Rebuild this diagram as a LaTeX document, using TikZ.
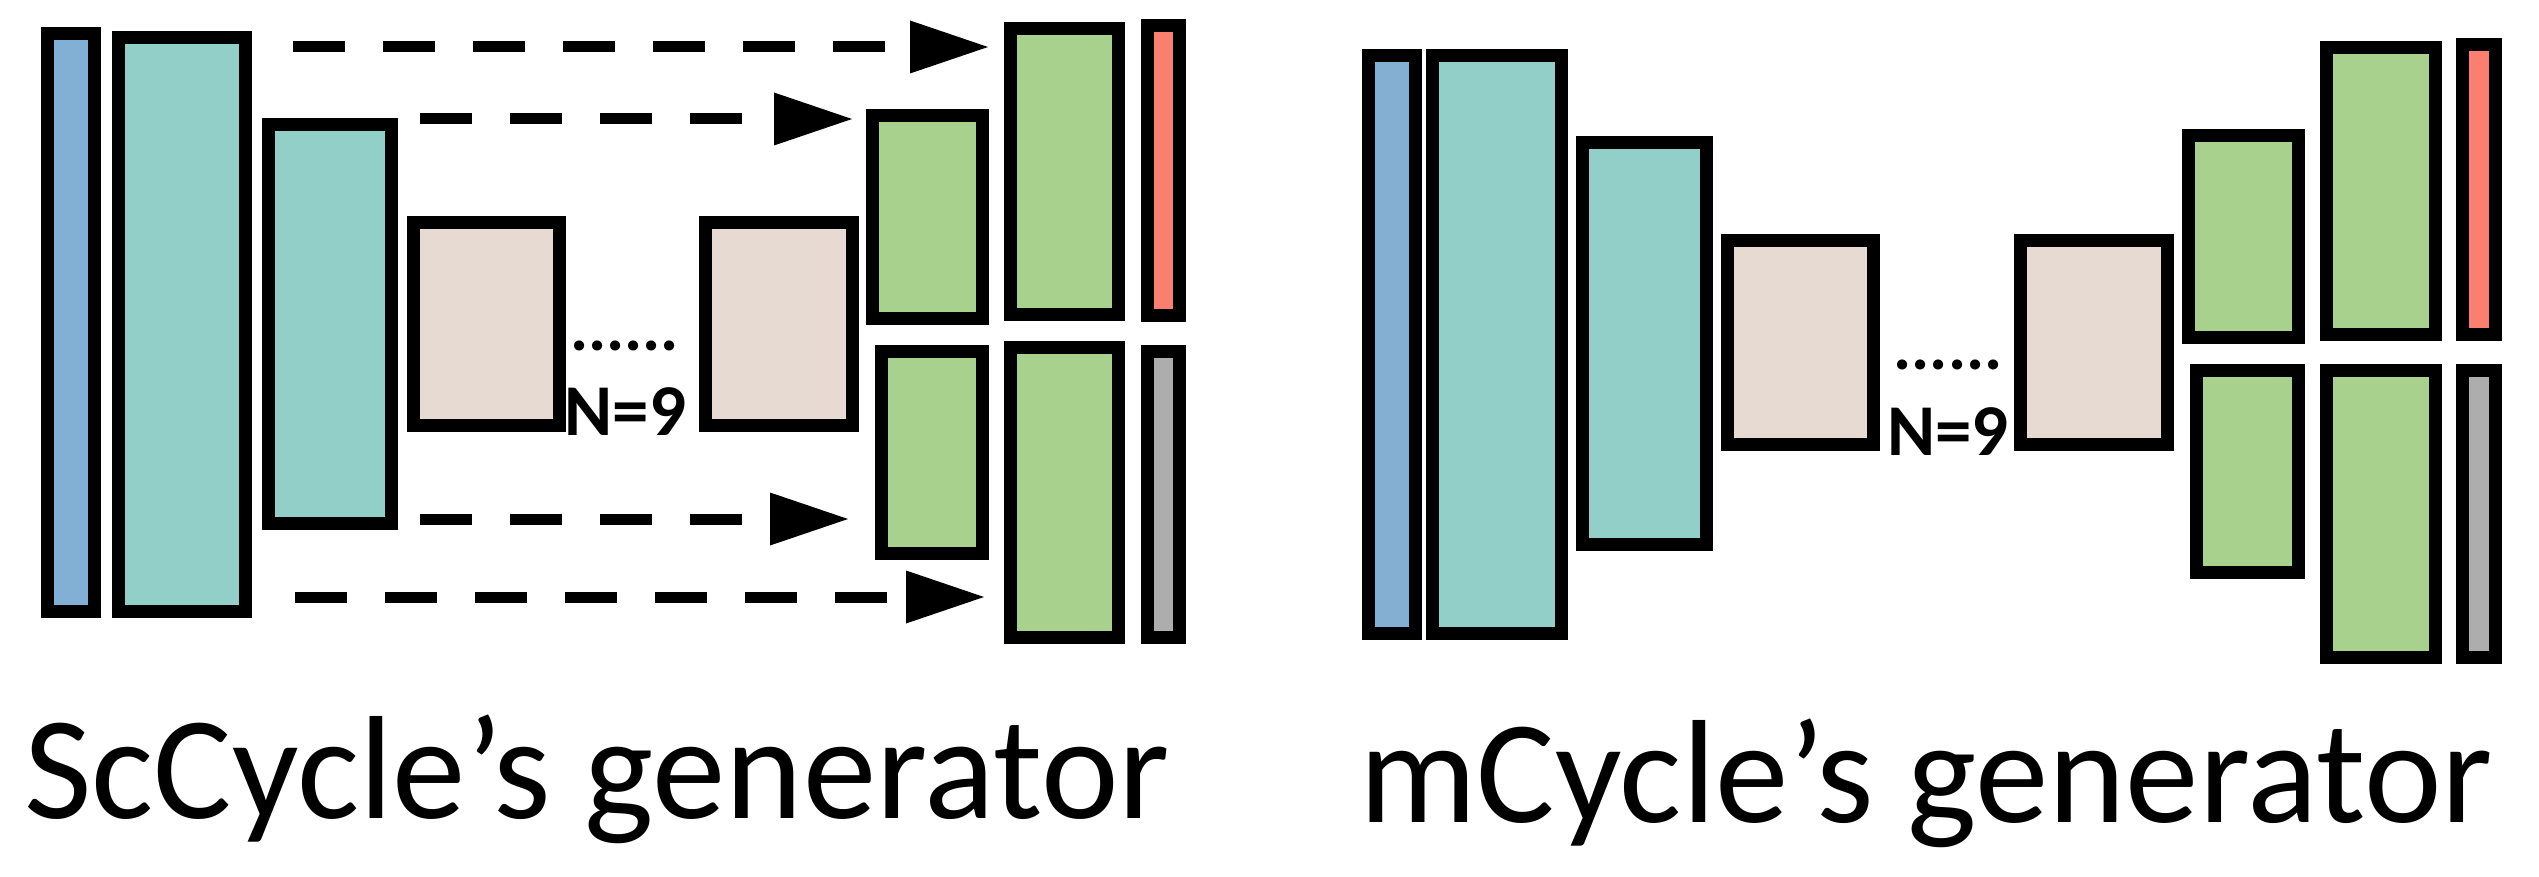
\documentclass[tikz,border=0pt]{standalone}
\usepackage{fontspec}
\setmainfont{Carlito}
\usetikzlibrary{arrows.meta}
\definecolor{cblue}{HTML}{82AFD4}
\definecolor{cteal}{HTML}{92CFC8}
\definecolor{cbeige}{HTML}{E7DAD2}
\definecolor{cgreen}{HTML}{A9D18E}
\definecolor{cred}{HTML}{FA7F6F}
\definecolor{cgray}{HTML}{ADADAD}
\tikzset{
  blk/.style={draw=black, line width=13pt, rectangle, inner sep=0pt, outer sep=0pt},
  skip/.style={line width=11pt, dash pattern=on 52pt off 38pt,
    -{Triangle[length=78pt,width=53pt,line width=0pt]}},
  caption/.style={anchor=base west, inner sep=0pt, font=\fontsize{147}{150}\selectfont},
  nlabel/.style={anchor=base, inner sep=0pt, font=\fontsize{73}{75}\selectfont\bfseries},
  dotlabel/.style={anchor=base, inner sep=0pt, font=\fontsize{68}{70}\selectfont\bfseries}
}
\begin{document}
\begin{tikzpicture}[x=1pt,y=-1pt]
\useasboundingbox (0,0) rectangle (2539,877);
% ---------- left panel ----------
\node[blk, fill=cblue,  minimum width=47pt,  minimum height=578pt] (Lblue)  at (71,322.5) {};
\node[blk, fill=cteal,  minimum width=127pt, minimum height=574pt] (Lteal1) at (182,324.5) {};
\node[blk, fill=cteal,  minimum width=123pt, minimum height=399pt] (Lteal2) at (330,324) {};
\node[blk, fill=cbeige, minimum width=146pt, minimum height=203pt] (Lres1)  at (486.5,324) {};
\node[blk, fill=cbeige, minimum width=147pt, minimum height=203pt] (Lres2)  at (779,324) {};
\node[blk, fill=cgreen, minimum width=110pt, minimum height=203pt] (Lgst)   at (927.5,217) {};
\node[blk, fill=cgreen, minimum width=101pt, minimum height=202pt] (Lgsb)   at (932,452.5) {};
\node[blk, fill=cgreen, minimum width=108pt, minimum height=286pt] (Lgbt)   at (1064.5,171.5) {};
\node[blk, fill=cgreen, minimum width=108pt, minimum height=290pt] (Lgbb)   at (1064.5,492.5) {};
\node[blk, fill=cred,   minimum width=32pt,  minimum height=290pt] (Lred)   at (1163.5,170.5) {};
\node[blk, fill=cgray,  minimum width=32pt,  minimum height=286pt] (Lgray)  at (1163.5,494.5) {};
\node[dotlabel] (Ldots) at (624.5,350) {......};
\node[nlabel] (LN) at (625.5,435) {N=9};
\coordinate (s1) at (293,47);
\coordinate (s2) at (420,119);
\coordinate (s3) at (420,519);
\coordinate (s4) at (295,597);
\draw[skip, shorten >=22.5pt] (s1) -- (s1 -| Lgbt.west);
\draw[skip, shorten >=20.5pt] (s2) -- (s2 -| Lgst.west);
\draw[skip, shorten >=33.5pt] (s3) -- (s3 -| Lgsb.west);
\draw[skip, shorten >=26.5pt] (s4) -- (s4 -| Lgbb.west);
\node[caption] (capL) at (24,818) {ScCycle’s generator};
% ---------- right panel ----------
\node[blk, fill=cblue,  minimum width=47pt,  minimum height=578pt] (Rblue)  at (1392,344.5) {};
\node[blk, fill=cteal,  minimum width=129pt, minimum height=578pt] (Rteal1) at (1497,344.5) {};
\node[blk, fill=cteal,  minimum width=124pt, minimum height=402pt] (Rteal2) at (1644.5,343.5) {};
\node[blk, fill=cbeige, minimum width=146pt, minimum height=204pt] (Rres1)  at (1800.5,342.5) {};
\node[blk, fill=cbeige, minimum width=147pt, minimum height=204pt] (Rres2)  at (2094,342.5) {};
\node[blk, fill=cgreen, minimum width=110pt, minimum height=202pt] (Rgst)   at (2243.5,236.5) {};
\node[blk, fill=cgreen, minimum width=102pt, minimum height=202pt] (Rgsb)   at (2247.5,471.5) {};
\node[blk, fill=cgreen, minimum width=109pt, minimum height=287pt] (Rgbt)   at (2381,191) {};
\node[blk, fill=cgreen, minimum width=109pt, minimum height=287pt] (Rgbb)   at (2381,514) {};
\node[blk, fill=cred,   minimum width=33pt,  minimum height=290pt] (Rred)   at (2479,189.5) {};
\node[blk, fill=cgray,  minimum width=33pt,  minimum height=287pt] (Rgray)  at (2479,514) {};
\node[dotlabel] (Rdots) at (1948,369) {......};
\node[nlabel] (RN) at (1948,455) {N=9};
\node[caption] (capR) at (1359,822) {mCycle’s generator};
\end{tikzpicture}
\end{document}
